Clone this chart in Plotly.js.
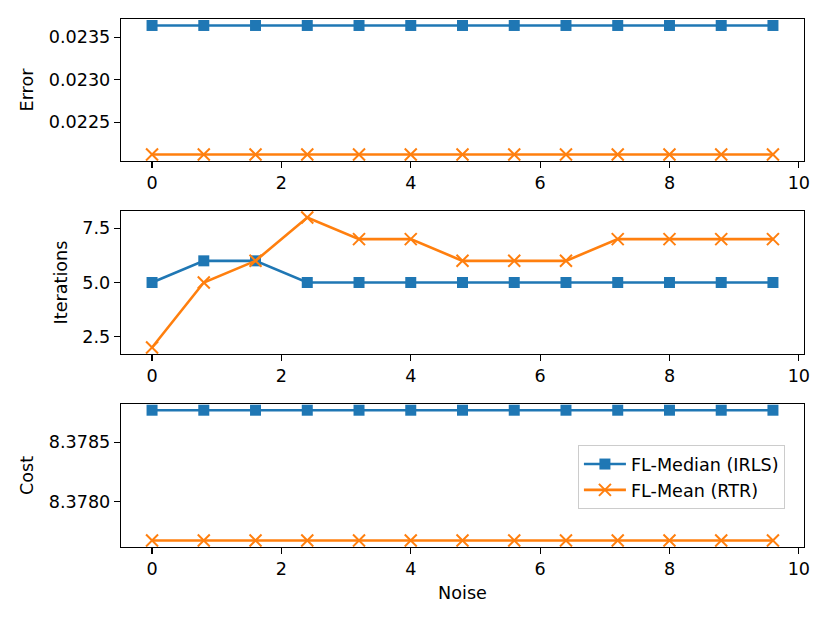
<!DOCTYPE html>
<html>
<head>
<meta charset="utf-8">
<script src="https://cdn.plot.ly/plotly-3.0.1.min.js"></script>
<style>
  html, body { margin: 0; padding: 0; background: #fff; }
  #chart { width: 830px; height: 623px; }
</style>
</head>
<body>
<div id="chart"></div>
<script>
// values
const noise = [0, 0.8, 1.6, 2.4, 3.2, 4.0, 4.8, 5.6, 6.4, 7.2, 8.0, 8.8, 9.6];

const errorMedian = [0.023637, 0.023637, 0.023637, 0.023637, 0.023637, 0.023637, 0.023637,
                     0.023637, 0.023637, 0.023637, 0.023637, 0.023637, 0.023637];
const errorMean = [0.022122, 0.022122, 0.022122, 0.022122, 0.022122, 0.022122, 0.022122,
                   0.022122, 0.022122, 0.022122, 0.022122, 0.022122, 0.022122];

const itersMedian = [5, 6, 6, 5, 5, 5, 5, 5, 5, 5, 5, 5, 5];
const itersMean = [2, 5, 6, 8, 7, 7, 6, 6, 6, 7, 7, 7, 7];

const costMedian = [8.378768, 8.378768, 8.378768, 8.378768, 8.378768, 8.378768, 8.378768,
                    8.378768, 8.378768, 8.378768, 8.378768, 8.378768, 8.378768];
const costMean = [8.377675, 8.377675, 8.377675, 8.377675, 8.377675, 8.377675, 8.377675,
                  8.377675, 8.377675, 8.377675, 8.377675, 8.377675, 8.377675];

const seriesNames = ['FL-Median (IRLS)', 'FL-Mean (RTR)'];
const xTicks = [0, 2, 4, 6, 8, 10];

const BLUE = '#1f77b4';
const ORANGE = '#ff7f0e';
const FONT = 'DejaVu Sans, sans-serif';
const FS = 17.6;

function medianTrace(y, xa, ya, show) {
    return {
        x: noise, y, xaxis: xa, yaxis: ya,
        type: 'scatter', mode: 'lines+markers',
        name: seriesNames[0], legendgroup: 'median', showlegend: show,
        line: { color: BLUE, width: 2.6 },
        marker: { symbol: 'square', size: 11, color: BLUE }
    };
}

function meanTrace(y, xa, ya, show) {
    return {
        x: noise, y, xaxis: xa, yaxis: ya,
        type: 'scatter', mode: 'lines+markers',
        name: seriesNames[1], legendgroup: 'mean', showlegend: show,
        line: { color: ORANGE, width: 2.6 },
        marker: { symbol: 'x-thin', size: 12, color: ORANGE, line: { color: ORANGE, width: 2 } }
    };
}

const traces = [
    medianTrace(errorMedian, 'x', 'y', false),
    meanTrace(errorMean, 'x', 'y', false),
    medianTrace(itersMedian, 'x2', 'y2', false),
    meanTrace(itersMean, 'x2', 'y2', false),
    medianTrace(costMedian, 'x3', 'y3', true),
    meanTrace(costMean, 'x3', 'y3', true)
];

function xAxis(anchor, title) {
    const ax = {
        anchor,
        range: [-0.48, 10.08],
        tickvals: xTicks,
        ticks: 'outside', ticklen: 6, tickwidth: 1.2, tickcolor: '#000',
        showline: true, linecolor: '#000', linewidth: 1.2, mirror: true,
        showgrid: false, zeroline: false,
        tickfont: { size: FS, color: '#000', family: FONT }
    };
    if (title) ax.title = { text: title, font: { size: FS, color: '#000', family: FONT }, standoff: 8 };
    return ax;
}

function yAxis(anchor, domain, range, ticks, fmt, title) {
    return {
        anchor, domain, range,
        tickvals: ticks, tickformat: fmt,
        ticks: 'outside', ticklen: 6, tickwidth: 1.2, tickcolor: '#000',
        showline: true, linecolor: '#000', linewidth: 1.2, mirror: true,
        showgrid: false, zeroline: false,
        tickfont: { size: FS, color: '#000', family: FONT },
        title: { text: title, font: { size: FS, color: '#000', family: FONT }, standoff: 10 },
        automargin: true
    };
}

const layout = {
    width: 830, height: 623,
    margin: { l: 121, r: 26, t: 19, b: 76 },
    paper_bgcolor: '#fff', plot_bgcolor: '#fff',
    font: { family: FONT, size: FS, color: '#000' },
    xaxis: xAxis('y'),
    xaxis2: xAxis('y2'),
    xaxis3: xAxis('y3', 'Noise'),
    yaxis: yAxis('x', [0.7311, 1], [0.022046, 0.023713], [0.0225, 0.0230, 0.0235], '.4f', 'Error'),
    yaxis2: yAxis('x2', [0.3655, 0.6364], [1.7, 8.3], [2.5, 5.0, 7.5], '.1f', 'Iterations'),
    yaxis3: yAxis('x3', [0, 0.2708], [8.37762, 8.37882], [8.3780, 8.3785], '.4f', 'Cost'),
    showlegend: true,
    legend: {
        x: 0.669, y: 0.193, xanchor: 'left', yanchor: 'top',
        bgcolor: 'rgba(255,255,255,0.8)', bordercolor: '#cccccc', borderwidth: 1,
        font: { size: FS, color: '#000', family: FONT },
        itemwidth: 42,
        tracegroupgap: 0
    }
};

Plotly.newPlot('chart', traces, layout, { displayModeBar: false, staticPlot: true });
</script>
</body>
</html>
